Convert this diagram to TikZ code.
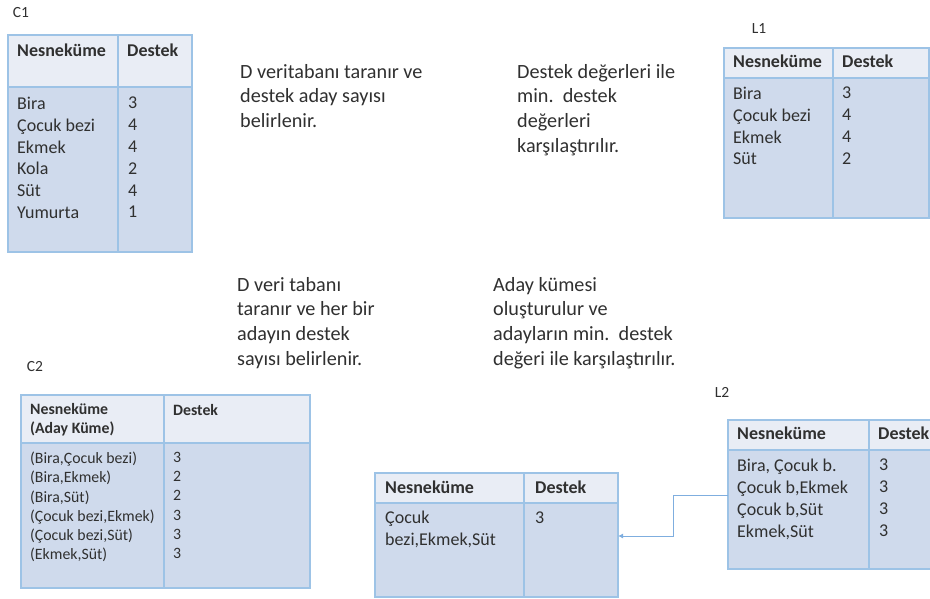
\documentclass[tikz,border=0pt]{standalone}
\usepackage{fontspec}
\setmainfont{Carlito}
\usetikzlibrary{arrows.meta,positioning}
\definecolor{gridblue}{HTML}{9DC3E6}
\definecolor{headfill}{HTML}{E9EDF5}
\definecolor{bodyfill}{HTML}{CFDAEC}
\definecolor{linkblue}{HTML}{7FAEDF}
\definecolor{inkgray}{HTML}{303030}

\begin{document}
\begin{tikzpicture}[
  x=1pt, y=-1pt,
  >=Latex,
  hcell/.style={draw=gridblue, line width=1.5pt, fill=headfill, anchor=north west, inner sep=0pt, outer sep=0pt},
  bcell/.style={draw=gridblue, line width=1.5pt, fill=bodyfill, anchor=north west, inner sep=0pt, outer sep=0pt},
  htxt/.style={align=left, inner sep=0pt, text=inkgray, font=\bfseries\fontsize{18}{21.8}\selectfont, execute at begin node={\rule{0pt}{12.5pt}}},
  btxt/.style={align=left, inner sep=0pt, text=inkgray, font=\fontsize{18}{21.8}\selectfont, execute at begin node={\rule{0pt}{12.5pt}}},
  shtxt/.style={htxt, font=\bfseries\fontsize{15.8}{19.5}\selectfont, execute at begin node={\rule{0pt}{11pt}}},
  sbtxt/.style={btxt, font=\fontsize{15.8}{19.2}\selectfont, execute at begin node={\rule{0pt}{11pt}}},
  note/.style={anchor=north west, align=left, inner sep=0pt, text=inkgray, font=\fontsize{20.2}{24.7}\selectfont},
  tag/.style={inner sep=0pt, text=inkgray, font=\fontsize{15.5}{18}\selectfont},
  link/.style={draw=linkblue, line width=0.9pt, -{Latex[length=5pt,width=5pt]}}
]
\path[use as bounding box, fill=white] (0,0) rectangle (930,598);

% C1
\node[tag] (c1tag) at (21,13) {C1};
\node[hcell, minimum width=110pt, minimum height=52pt] (c1hl) at (8,35) {};
\node[hcell, minimum width=74pt, minimum height=52pt] (c1hr) at (118,35) {};
\node[bcell, minimum width=110pt, minimum height=165pt] (c1bl) at (8,87) {};
\node[bcell, minimum width=74pt, minimum height=165pt] (c1br) at (118,87) {};
\node[htxt, below right=9pt and 9pt of c1hl.north west] (c1hlt) {Nesneküme};
\node[htxt, below right=9pt and 9pt of c1hr.north west] (c1hrt) {Destek};
\node[btxt, below right=10pt and 9pt of c1bl.north west] (c1blt) {Bira\\Çocuk bezi\\Ekmek\\Kola\\Süt\\Yumurta};
\node[btxt, below right=10pt and 10pt of c1br.north west] (c1brt) {3\\4\\4\\2\\4\\1};

% L1
\node[tag] (l1tag) at (759,29) {L1};
\node[hcell, minimum width=109pt, minimum height=30pt] (l1hl) at (724,48) {};
\node[hcell, minimum width=96pt, minimum height=30pt] (l1hr) at (833,48) {};
\node[bcell, minimum width=109pt, minimum height=140pt] (l1bl) at (724,78) {};
\node[bcell, minimum width=96pt, minimum height=140pt] (l1br) at (833,78) {};
\node[htxt, below right=7pt and 9pt of l1hl.north west] (l1hlt) {Nesneküme};
\node[htxt, below right=7pt and 9pt of l1hr.north west] (l1hrt) {Destek};
\node[btxt, below right=9pt and 9pt of l1bl.north west] (l1blt) {Bira\\Çocuk bezi\\Ekmek\\Süt};
\node[btxt, below right=9pt and 9pt of l1br.north west] (l1brt) {3\\4\\4\\2};

% C2
\node[tag] (c2tag) at (35,367) {C2};
\node[hcell, minimum width=143pt, minimum height=48pt] (c2hl) at (21,395) {};
\node[hcell, minimum width=146pt, minimum height=48pt] (c2hr) at (164,395) {};
\node[bcell, minimum width=143pt, minimum height=145pt] (c2bl) at (21,443) {};
\node[bcell, minimum width=146pt, minimum height=145pt] (c2br) at (164,443) {};
\node[shtxt, below right=8pt and 9pt of c2hl.north west] (c2hlt) {Nesneküme\\(Aday Küme)};
\node[shtxt, below right=8pt and 9pt of c2hr.north west] (c2hrt) {Destek};
\node[sbtxt, below right=9pt and 9pt of c2bl.north west] (c2blt) {(Bira,Çocuk bezi)\\(Bira,Ekmek)\\(Bira,Süt)\\(Çocuk bezi,Ekmek)\\(Çocuk bezi,Süt)\\(Ekmek,Süt)};
\node[sbtxt, below right=9pt and 9pt of c2br.north west] (c2brt) {3\\2\\2\\3\\3\\3};

% C3
\node[hcell, minimum width=149pt, minimum height=30pt] (c3hl) at (375,473) {};
\node[hcell, minimum width=94pt, minimum height=30pt] (c3hr) at (524,473) {};
\node[bcell, minimum width=149pt, minimum height=94pt] (c3bl) at (375,503) {};
\node[bcell, minimum width=94pt, minimum height=94pt] (c3br) at (524,503) {};
\node[htxt, below right=8pt and 10pt of c3hl.north west] (c3hlt) {Nesneküme};
\node[htxt, below right=8pt and 11pt of c3hr.north west] (c3hrt) {Destek};
\node[btxt, below right=8pt and 10pt of c3bl.north west] (c3blt) {Çocuk\\bezi,Ekmek,Süt};
\node[btxt, below right=8pt and 11pt of c3br.north west] (c3brt) {3};

% L2
\node[tag] (l2tag) at (722,392) {L2};
\node[hcell, minimum width=141pt, minimum height=30pt] (l2hl) at (728,420) {};
\node[hcell, minimum width=64pt, minimum height=30pt] (l2hr) at (869,420) {};
\node[bcell, minimum width=141pt, minimum height=119pt] (l2bl) at (728,450) {};
\node[bcell, minimum width=64pt, minimum height=119pt] (l2br) at (869,450) {};
\node[htxt, below right=7pt and 9pt of l2hl.north west] (l2hlt) {Nesneküme};
\node[htxt, below right=7pt and 9pt of l2hr.north west] (l2hrt) {Destek};
\node[btxt, below right=9pt and 9pt of l2bl.north west] (l2blt) {Bira, Çocuk b.\\Çocuk b,Ekmek\\Çocuk b,Süt\\Ekmek,Süt};
\node[btxt, below right=9pt and 10pt of l2br.north west] (l2brt) {3\\3\\3\\3};

% steps
\node[note] (scan1) at (240,64) {D veritabanı taranır ve\\destek aday sayısı\\belirlenir.};
\node[note] (cmp1) at (517,64) {Destek değerleri ile\\min.\ \ destek\\değerleri\\karşılaştırılır.};
\node[note] (scan2) at (237,277) {D veri tabanı\\taranır ve her bir\\adayın destek\\sayısı belirlenir.};
\node[note] (cmp2) at (493,277) {Aday kümesi\\oluşturulur ve\\adayların min.\ \ destek\\değeri ile karşılaştırılır.};

\draw[link] ([yshift=14.5pt]l2bl.west) -- ++(-55,0) |- ([yshift=14pt]c3br.east);
\end{tikzpicture}
\end{document}
